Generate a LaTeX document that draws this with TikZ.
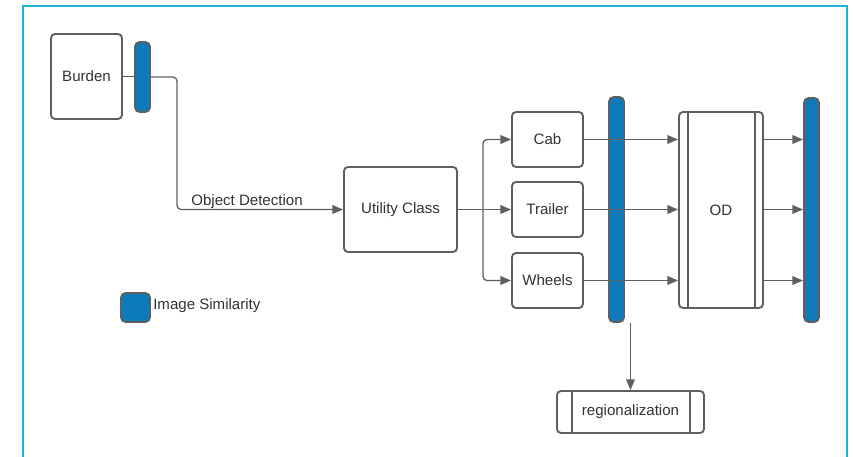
\documentclass[tikz,border=0pt]{standalone}
\usepackage{fontspec}
\setmainfont{Liberation Sans}
\usetikzlibrary{arrows.meta}
\definecolor{lnc}{RGB}{95,95,95}
\definecolor{barblue}{RGB}{14,122,186}
\definecolor{framec}{RGB}{26,180,220}
\definecolor{txtc}{RGB}{50,50,50}
\begin{document}
\begin{tikzpicture}[x=0.75pt,y=-0.75pt,
  box/.style={draw=lnc,line width=1.4pt,rounded corners=3pt,fill=white,inner sep=0pt,
    text=txtc,font=\fontsize{11.3}{13}\selectfont},
  bar/.style={draw=lnc,line width=1.4pt,rounded corners=3.5pt,fill=barblue,inner sep=0pt,
    minimum width={15*0.75pt}},
  conn/.style={draw=lnc,line width=1pt},
  arr/.style={conn,-{Triangle[length=8pt,width=6.5pt]}},
  lbl/.style={text=txtc,font=\fontsize{11.3}{13}\selectfont,inner sep=0pt}
]
\useasboundingbox (0,0) rectangle (854,457);
% frame
\draw[framec,line width=1.5pt] (23,458) -- (23,6) -- (847,6) -- (847,458);

% nodes
\node[box,minimum width={71*0.75pt},minimum height={85*0.75pt}] (burden) at (86.5,76.5) {Burden};
\node[bar,minimum height={70*0.75pt}] (bar1) at (142.5,77) {};
\node[box,minimum width={113*0.75pt},minimum height={85*0.75pt}] (util) at (400.5,209.5) {Utility Class};
\node[box,minimum width={71*0.75pt},minimum height={55*0.75pt}] (cab) at (547.5,139.5) {Cab};
\node[box,minimum width={71*0.75pt},minimum height={55*0.75pt}] (trailer) at (547.5,209.5) {Trailer};
\node[box,minimum width={71*0.75pt},minimum height={55*0.75pt}] (wheels) at (547.5,280.5) {Wheels};
\node[bar,minimum height={225*0.75pt}] (bar2) at (616.5,209.5) {};
\node[box,minimum width={84*0.75pt},minimum height={196*0.75pt}] (od) at (721,210) {OD};
\draw[lnc,line width=1.4pt] (688,112) -- (688,308) (755,112) -- (755,308);
\node[bar,minimum height={224*0.75pt}] (bar3) at (811.5,210) {};
\node[box,minimum width={147*0.75pt},minimum height={42*0.75pt}] (reg) at (630.5,412) {regionalization};
\draw[lnc,line width=1.4pt] (572,391) -- (572,433) (690,391) -- (690,433);

% legend
\node[bar,minimum width={29*0.75pt},minimum height={29*0.75pt}] (leg) at (135.5,307.5) {};
\node[lbl,anchor=west] (legt) at (153,306) {Image Similarity};

% connectors
\draw[conn] (burden.east) -- (bar1.west |- burden.east);
\coordinate (c1) at (177,77);
\draw[arr,rounded corners=3pt] (bar1.east |- c1) -- (c1) |- (util.west);
\node[lbl] (odlab) at (247,201.5) {Object Detection};

\coordinate (br) at (483,209.5);
\draw[conn] (util.east) -- (br);
\draw[arr,rounded corners=3pt] (br) |- (cab.west);
\draw[arr] (br) -- (trailer.west);
\draw[arr,rounded corners=3pt] (br) |- (wheels.west);

\draw[arr] (cab.east) -- (od.west |- cab.east);
\draw[arr] (trailer.east) -- (od.west |- trailer.east);
\draw[arr] (wheels.east) -- (od.west |- wheels.east);

\draw[arr] (od.east |- cab.east) -- (bar3.west |- cab.east);
\draw[arr] (od.east |- trailer.east) -- (bar3.west |- trailer.east);
\draw[arr] (od.east |- wheels.east) -- (bar3.west |- wheels.east);

\coordinate (rtop) at (reg.north |- bar2.south);
\draw[arr] (rtop) -- (reg.north);
\end{tikzpicture}
\end{document}
